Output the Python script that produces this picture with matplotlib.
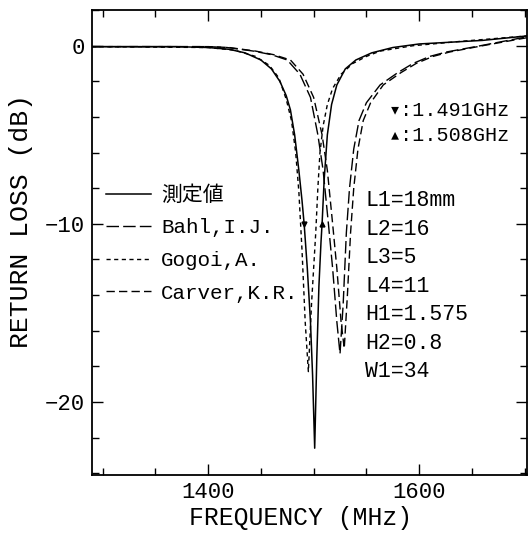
import matplotlib
matplotlib.use("Agg")
import matplotlib.pyplot as plt
from matplotlib.ticker import MultipleLocator

plt.rcParams['font.family'] = ['Liberation Mono', 'DejaVu Sans Mono', 'Noto Sans CJK JP']

# measured curve (solid)
meas_f = [1290, 1330, 1370, 1400, 1420, 1435, 1450, 1460, 1468, 1474, 1478, 1482,
          1486, 1489, 1491, 1494, 1497, 1499, 1501, 1503, 1505, 1507, 1508, 1510,
          1513, 1517, 1522, 1530, 1540, 1555, 1575, 1600, 1630, 1660, 1702]
meas_db = [-0.05, -0.05, -0.05, -0.1, -0.2, -0.4, -0.8, -1.3, -2.0, -2.8, -3.6, -5.0,
           -7.0, -8.7, -10.0, -12.5, -15.5, -18.5, -22.6, -17.5, -13.5, -11.0, -10.0, -7.5,
           -5.0, -3.3, -2.2, -1.3, -0.8, -0.4, -0.1, 0.1, 0.2, 0.3, 0.55]

# Bahl, I.J.
bahl_f = [1290, 1400, 1418, 1443, 1460, 1475, 1487, 1497, 1504, 1509, 1514, 1518,
          1522, 1525, 1528, 1531, 1534, 1538, 1543, 1550, 1563, 1580, 1594, 1610,
          1626, 1658, 1702]
bahl_db = [-0.05, -0.05, -0.1, -0.3, -0.5, -0.8, -1.6, -2.9, -5.0, -7.0, -10.0, -12.5,
           -15.5, -17.3, -14.5, -10.5, -8.0, -5.8, -4.2, -3.2, -2.2, -1.5, -1.0, -0.6,
           -0.35, 0.0, 0.5]

# Gogoi, A.
gogoi_f = [1290, 1400, 1425, 1445, 1458, 1467, 1474, 1479, 1483, 1486, 1489, 1492,
           1495, 1498, 1502, 1504, 1506, 1509, 1513, 1518, 1526, 1537, 1550, 1563,
           1594, 1640, 1702]
gogoi_db = [-0.05, -0.1, -0.25, -0.6, -1.1, -1.8, -3.0, -4.2, -6.0, -8.2, -11.5, -15.5,
            -18.3, -14.5, -10.5, -8.0, -6.0, -4.5, -3.3, -2.4, -1.6, -1.0, -0.6, -0.3,
            0.0, 0.25, 0.55]

# Carver, K.R.
carver_f = [1290, 1400, 1420, 1445, 1462, 1478, 1490, 1500, 1508, 1513, 1518, 1522,
            1526, 1529, 1532, 1535, 1538, 1542, 1547, 1554, 1566, 1583, 1597, 1613,
            1629, 1660, 1702]
carver_db = [-0.05, -0.05, -0.1, -0.3, -0.5, -0.8, -1.6, -2.9, -5.0, -7.0, -10.0, -12.5,
             -15.5, -17.0, -14.0, -10.5, -8.0, -5.8, -4.2, -3.2, -2.2, -1.5, -1.0, -0.6,
             -0.35, 0.0, 0.45]

# -10 dB band edges of the measured curve
mark_f = [1491, 1508]
mark_db = [-10, -10]

params = ["L1=18mm", "L2=16", "L3=5", "L4=11", "H1=1.575", "H2=0.8", "W1=34"]

fig = plt.figure(figsize=(5.30, 5.33), dpi=100)
ax = fig.add_axes([0.1736, 0.109, 0.8204, 0.872])

ax.plot(meas_f, meas_db, color='black', lw=1.1, label='測定値')
ax.plot(bahl_f, bahl_db, color='black', lw=1.0, dashes=(9, 3), label='Bahl,I.J.')
ax.plot(gogoi_f, gogoi_db, color='black', lw=1.0, dashes=(3, 2.5), label='Gogoi,A.')
ax.plot(carver_f, carver_db, color='black', lw=1.0, dashes=(6, 3), label='Carver,K.R.')
ax.plot(mark_f[:1], mark_db[:1], 'v', color='black', ms=3.5)
ax.plot(mark_f[1:], mark_db[1:], '^', color='black', ms=3.5)

ax.set_xlim(1290, 1702)
ax.set_ylim(-24.1, 2.0)
ax.xaxis.set_major_locator(MultipleLocator(200))
ax.xaxis.set_minor_locator(MultipleLocator(50))
ax.yaxis.set_major_locator(MultipleLocator(10))
ax.yaxis.set_minor_locator(MultipleLocator(2))
ax.tick_params(which='both', direction='in', top=True, right=True, labelsize=16, width=1.0)
ax.tick_params(which='major', length=8, pad=5)
ax.tick_params(which='minor', length=5)
for s in ax.spines.values():
    s.set_linewidth(1.3)

ax.set_xlabel('FREQUENCY (MHz)', fontsize=17.8)
ax.set_ylabel('RETURN LOSS (dB)', fontsize=19)
ax.xaxis.set_label_coords(0.48, -0.066)
ax.yaxis.set_label_coords(-0.136, 0.546)

ax.legend(loc='upper left', bbox_to_anchor=(0.032, 0.623), frameon=False,
          fontsize=15, handlelength=2.15, handletextpad=0.5, labelspacing=0.65,
          borderaxespad=0, borderpad=0)

ax.text(1571, -3.65, '▾:1.491GHz', fontsize=14.5, va='center')
ax.text(1571, -5.06, '▴:1.508GHz', fontsize=14.5, va='center')
for i, p in enumerate(params):
    ax.text(1549, -8.7 - 1.6 * i, p, fontsize=15.5, va='center')

fig.savefig('out.png', dpi=100)
